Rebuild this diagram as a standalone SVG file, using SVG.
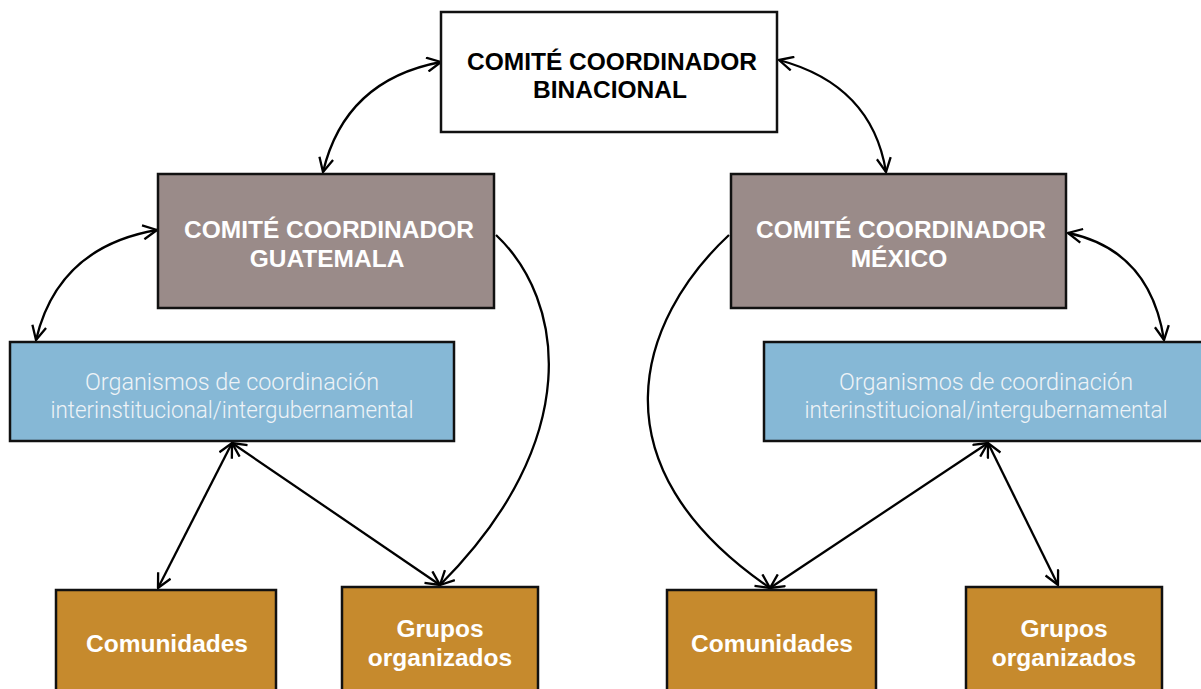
<svg xmlns="http://www.w3.org/2000/svg" width="1201" height="689" viewBox="0 0 1201 689">
<defs>
<style>
.box{stroke:#111;stroke-width:2.5}
.white{fill:#fff}
.grey{fill:#9a8b89}
.blue{fill:#86b8d6}
.orange{fill:#c68a2d}
.tb{font-family:"Liberation Sans",Arial,sans-serif;font-weight:bold;font-size:24.5px;text-anchor:middle}
.tl{font-family:Roboto,"Liberation Sans",sans-serif;font-weight:300;font-size:23.4px;text-anchor:middle;fill:#eef3f7}
.conn path{fill:none;stroke:#000;stroke-width:2.3}
</style>
<marker id="ah" viewBox="0 0 16 16" refX="15" refY="8" markerWidth="16" markerHeight="16" markerUnits="userSpaceOnUse" orient="auto-start-reverse">
<path d="M1,1 L15,8 L1,15" fill="none" stroke="#000" stroke-width="2.3"/>
</marker>
</defs>
<rect width="1201" height="689" fill="#fff"/>
<g class="conn">
<path d="M441,62 Q345,80 323,172" marker-start="url(#ah)" marker-end="url(#ah)"/>
<path d="M779,60 Q872,85 886,172" marker-start="url(#ah)" marker-end="url(#ah)"/>
<path d="M157,230 Q58,247 36,340" marker-start="url(#ah)" marker-end="url(#ah)"/>
<path d="M1068,233 Q1150,250 1164,340" marker-start="url(#ah)" marker-end="url(#ah)"/>
<path d="M496,235 C565,300 585,440 440,585" marker-end="url(#ah)"/>
<path d="M729,235 C638,320 590,465 770,588" marker-end="url(#ah)"/>
<path d="M232,443 L158,588" marker-start="url(#ah)" marker-end="url(#ah)"/>
<path d="M232,443 L440,585" marker-start="url(#ah)" marker-end="url(#ah)"/>
<path d="M988,443 L770,588" marker-start="url(#ah)" marker-end="url(#ah)"/>
<path d="M988,443 L1058,585" marker-start="url(#ah)" marker-end="url(#ah)"/>
</g>
<g id="binacional">
<rect class="box white" x="441" y="12" width="336" height="120"/>
<text class="tb" x="612" y="70" fill="#000">COMITÉ COORDINADOR</text>
<text class="tb" x="610" y="98" fill="#000">BINACIONAL</text>
</g>
<g id="guatemala">
<rect class="box grey" x="158" y="174" width="336" height="134"/>
<text class="tb" x="329" y="238" fill="#fff">COMITÉ COORDINADOR</text>
<text class="tb" x="327" y="267" fill="#fff">GUATEMALA</text>
</g>
<g id="mexico">
<rect class="box grey" x="731" y="174" width="335" height="134"/>
<text class="tb" x="901" y="238" fill="#fff">COMITÉ COORDINADOR</text>
<text class="tb" x="899" y="267" fill="#fff">MÉXICO</text>
</g>
<g id="organismos-gt">
<rect class="box blue" x="10" y="342" width="444" height="99"/>
<text class="tl" x="232" y="390" textLength="294" lengthAdjust="spacingAndGlyphs">Organismos de coordinación</text>
<text class="tl" x="232" y="418" textLength="363" lengthAdjust="spacingAndGlyphs">interinstitucional/intergubernamental</text>
</g>
<g id="organismos-mx">
<rect class="box blue" x="764" y="342" width="445" height="99"/>
<text class="tl" x="986" y="390" textLength="294" lengthAdjust="spacingAndGlyphs">Organismos de coordinación</text>
<text class="tl" x="986" y="418" textLength="363" lengthAdjust="spacingAndGlyphs">interinstitucional/intergubernamental</text>
</g>
<g id="comunidades-gt">
<rect class="box orange" x="56" y="590" width="220" height="110"/>
<text class="tb" x="167" y="652" fill="#fff">Comunidades</text>
</g>
<g id="grupos-gt">
<rect class="box orange" x="342" y="587" width="196" height="113"/>
<text class="tb" x="440" y="637" fill="#fff">Grupos</text>
<text class="tb" x="440" y="666" fill="#fff">organizados</text>
</g>
<g id="comunidades-mx">
<rect class="box orange" x="667" y="590" width="209" height="110"/>
<text class="tb" x="772" y="652" fill="#fff">Comunidades</text>
</g>
<g id="grupos-mx">
<rect class="box orange" x="966" y="587" width="196" height="113"/>
<text class="tb" x="1064" y="637" fill="#fff">Grupos</text>
<text class="tb" x="1064" y="666" fill="#fff">organizados</text>
</g>
</svg>
